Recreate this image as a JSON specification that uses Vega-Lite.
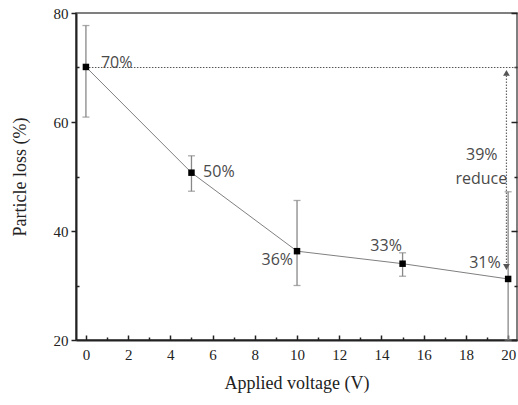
{
  "$schema": "https://vega.github.io/schema/vega-lite/v6.json",
  "width": 441,
  "height": 327,
  "autosize": {"type": "none"},
  "padding": {"left": 76, "top": 13, "right": 1, "bottom": 65},
  "background": "white",
  "config": {
    "view": {"stroke": "#555", "strokeWidth": 1.5},
    "axis": {"grid": false, "labelFont": "Liberation Serif", "titleFont": "Liberation Serif", "labelFontSize": 15, "titleFontSize": 18, "labelColor": "#222", "titleColor": "#222", "titleFontWeight": "normal", "tickColor": "#222", "domainColor": "#222", "domainWidth": 2, "tickWidth": 1.5}
  },
  "datasets": {
    "pts": [
      {"v": 0, "loss": 70.1, "lo": 60.9, "hi": 77.7, "label": "70%", "lx": 0.71, "ly": 70.0},
      {"v": 5, "loss": 50.7, "lo": 47.3, "hi": 53.8, "label": "50%", "lx": 5.55, "ly": 49.9},
      {"v": 10, "loss": 36.3, "lo": 30.0, "hi": 45.6, "label": "36%", "lx": 9.81, "ly": 33.8},
      {"v": 15, "loss": 34.0, "lo": 31.7, "hi": 36.0, "label": "33%", "lx": 14.22, "ly": 36.4},
      {"v": 20, "loss": 31.2, "lo": 20.0, "hi": 47.2, "label": "31%", "lx": 19.65, "ly": 33.3}
    ],
    "ann": [
      {"text": "39%", "x": 18.75, "y": 53.0},
      {"text": "reduce", "x": 18.73, "y": 48.7}
    ],
    "hline": [{"x1": 0, "x2": 20.42, "y": 70}],
    "vline": [{"x": 19.92, "y1": 33.6, "y2": 69.2}],
    "heads": [
      {"x": 19.92, "y": 69.0, "shape": "triangle-up"},
      {"x": 19.92, "y": 33.4, "shape": "triangle-down"}
    ]
  },
  "resolve": {"axis": {"x": "independent", "y": "independent"}},
  "layer": [
    {
      "data": {"name": "pts"},
      "mark": {"type": "rule", "color": "#888", "strokeWidth": 1.3},
      "encoding": {
        "x": {"field": "v", "type": "quantitative", "scale": {"domain": [-0.47, 20.42], "nice": false, "zero": false},
          "axis": {"orient": "bottom", "values": [0, 2, 4, 6, 8, 10, 12, 14, 16, 18, 20], "tickSize": -5, "labelPadding": 12, "title": "Applied voltage (V)", "titlePadding": 12}},
        "y": {"field": "lo", "type": "quantitative", "scale": {"domain": [20, 80], "nice": false, "zero": false},
          "axis": {"orient": "left", "values": [20, 40, 60, 80], "tickSize": 5, "labelPadding": 3, "title": "Particle loss (%)", "titlePadding": 24}},
        "y2": {"field": "hi"}
      }
    },
    {
      "data": {"name": "pts"},
      "mark": {"type": "tick", "color": "#888", "thickness": 1.3, "size": 7, "orient": "horizontal"},
      "encoding": {
        "x": {"field": "v", "type": "quantitative",
          "axis": {"orient": "bottom", "values": [1, 3, 5, 7, 9, 11, 13, 15, 17, 19], "tickSize": -3, "labels": false, "domain": false, "title": null}},
        "y": {"field": "lo", "type": "quantitative",
          "axis": {"orient": "left", "values": [30, 50, 70], "tickSize": -3, "labels": false, "domain": false, "title": null}}
      }
    },
    {
      "data": {"name": "pts"},
      "mark": {"type": "tick", "color": "#888", "thickness": 1.3, "size": 7, "orient": "horizontal"},
      "encoding": {
        "x": {"field": "v", "type": "quantitative", "axis": null},
        "y": {"field": "hi", "type": "quantitative",
          "axis": {"orient": "right", "values": [20, 40, 60, 80], "tickSize": -6, "labels": false, "domain": false, "title": null}}
      }
    },
    {
      "data": {"name": "pts"},
      "mark": {"type": "line", "color": "#808080", "strokeWidth": 1},
      "encoding": {
        "x": {"field": "v", "type": "quantitative", "axis": null},
        "y": {"field": "loss", "type": "quantitative",
          "axis": {"orient": "right", "values": [30, 50, 70], "tickSize": -3, "labels": false, "domain": false, "title": null}}
      }
    },
    {
      "data": {"name": "hline"},
      "mark": {"type": "rule", "color": "#555", "strokeWidth": 1.2, "strokeDash": [1.5, 1.5]},
      "encoding": {
        "x": {"field": "x1", "type": "quantitative", "axis": null},
        "x2": {"field": "x2"},
        "y": {"field": "y", "type": "quantitative", "axis": null}
      }
    },
    {
      "data": {"name": "vline"},
      "mark": {"type": "rule", "color": "#666", "strokeWidth": 1.2, "strokeDash": [1.5, 1.5]},
      "encoding": {
        "x": {"field": "x", "type": "quantitative", "axis": null},
        "y": {"field": "y1", "type": "quantitative", "axis": null},
        "y2": {"field": "y2"}
      }
    },
    {
      "data": {"name": "heads"},
      "mark": {"type": "point", "filled": true, "color": "#555", "size": 45, "opacity": 1},
      "encoding": {
        "x": {"field": "x", "type": "quantitative", "axis": null},
        "y": {"field": "y", "type": "quantitative", "axis": null},
        "shape": {"field": "shape", "type": "nominal", "scale": {"domain": ["triangle-up", "triangle-down"], "range": ["triangle-up", "triangle-down"]}, "legend": null}
      }
    },
    {
      "data": {"name": "pts"},
      "mark": {"type": "point", "shape": "square", "filled": true, "color": "black", "size": 42, "opacity": 1},
      "encoding": {
        "x": {"field": "v", "type": "quantitative", "axis": null},
        "y": {"field": "loss", "type": "quantitative", "axis": null}
      }
    },
    {
      "data": {"name": "pts"},
      "transform": [{"filter": "datum.v == 0 || datum.v == 5"}],
      "mark": {"type": "text", "align": "left", "baseline": "alphabetic", "font": "Open Sans", "fontSize": 16, "color": "#4a4a4a"},
      "encoding": {
        "x": {"field": "lx", "type": "quantitative", "axis": null},
        "y": {"field": "ly", "type": "quantitative", "axis": null},
        "text": {"field": "label"}
      }
    },
    {
      "data": {"name": "pts"},
      "transform": [{"filter": "datum.v == 10 || datum.v == 20"}],
      "mark": {"type": "text", "align": "right", "baseline": "alphabetic", "font": "Open Sans", "fontSize": 16, "color": "#4a4a4a"},
      "encoding": {
        "x": {"field": "lx", "type": "quantitative", "axis": null},
        "y": {"field": "ly", "type": "quantitative", "axis": null},
        "text": {"field": "label"}
      }
    },
    {
      "data": {"name": "pts"},
      "transform": [{"filter": "datum.v == 15"}],
      "mark": {"type": "text", "align": "center", "baseline": "alphabetic", "font": "Open Sans", "fontSize": 16, "color": "#4a4a4a"},
      "encoding": {
        "x": {"field": "lx", "type": "quantitative", "axis": null},
        "y": {"field": "ly", "type": "quantitative", "axis": null},
        "text": {"field": "label"}
      }
    },
    {
      "data": {"name": "ann"},
      "mark": {"type": "text", "align": "center", "baseline": "alphabetic", "font": "Open Sans", "fontSize": 16, "color": "#4a4a4a"},
      "encoding": {
        "x": {"field": "x", "type": "quantitative", "axis": null},
        "y": {"field": "y", "type": "quantitative", "axis": null},
        "text": {"field": "text"}
      }
    }
  ]
}
